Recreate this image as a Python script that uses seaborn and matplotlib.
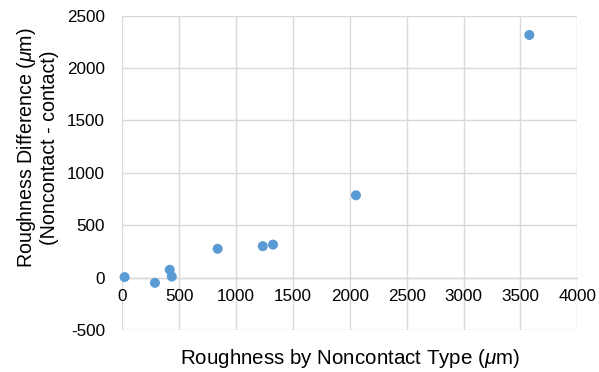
import matplotlib
matplotlib.use("Agg")
import matplotlib.pyplot as plt
import seaborn as sns
import pandas as pd

# Data
noncontact = [20, 287, 417, 435, 838, 1235, 1325, 2054, 3578]
difference = [5, -50, 75, 10, 275, 300, 315, 786, 2316]

x_ticks = [0, 500, 1000, 1500, 2000, 2500, 3000, 3500, 4000]
y_ticks = [-500, 0, 500, 1000, 1500, 2000, 2500]

df = pd.DataFrame({"noncontact": noncontact, "difference": difference})

sns.set_theme(style="white")
plt.rcParams['font.family'] = ['Liberation Sans', 'DejaVu Sans']
plt.rcParams['mathtext.fontset'] = 'custom'
plt.rcParams['mathtext.rm'] = 'Liberation Sans'
plt.rcParams['mathtext.it'] = 'Liberation Sans:italic'

fig = plt.figure(figsize=(5.99, 3.72), dpi=100)
ax = fig.add_axes([0.2042, 0.1129, 0.7596, 0.8449])

sns.scatterplot(data=df, x="noncontact", y="difference", ax=ax,
                color="#5B9BD5", s=52, edgecolor="none", zorder=3, clip_on=False)

ax.set_xlim(0, 4000)
ax.set_ylim(-500, 2500)
ax.set_xticks(x_ticks)
ax.set_yticks(y_ticks)
ax.set_xticklabels([str(t) for t in x_ticks])
ax.set_yticklabels([str(t) for t in y_ticks])

grid_c = "#D9D9D9"
ax.grid(True, color=grid_c, linewidth=1.0)
ax.set_axisbelow(True)
for side in ["top", "right", "left"]:
    ax.spines[side].set_visible(False)
ax.spines["bottom"].set_position(("data", 0))
ax.spines["bottom"].set_color(grid_c)
ax.spines["bottom"].set_linewidth(1.0)

ax.tick_params(axis="both", length=0, labelsize=12.3, colors="#000000")
ax.tick_params(axis="x", pad=8)
ax.tick_params(axis="y", pad=12.5)

ax.set_xlabel("")
ax.set_ylabel("")
fig.text(0.5843, 0.036, r"Roughness by Noncontact Type ($\mathit{\mu}$m)",
         ha="center", va="center", fontsize=14.8, color="#000000")
fig.text(0.062, 0.602, "Roughness Difference ($\\mathit{\\mu}$m)\n(Noncontact - contact)",
         ha="center", va="center", rotation=90, fontsize=14.1, color="#000000",
         linespacing=1.1)

fig.savefig("out.png", dpi=100)
